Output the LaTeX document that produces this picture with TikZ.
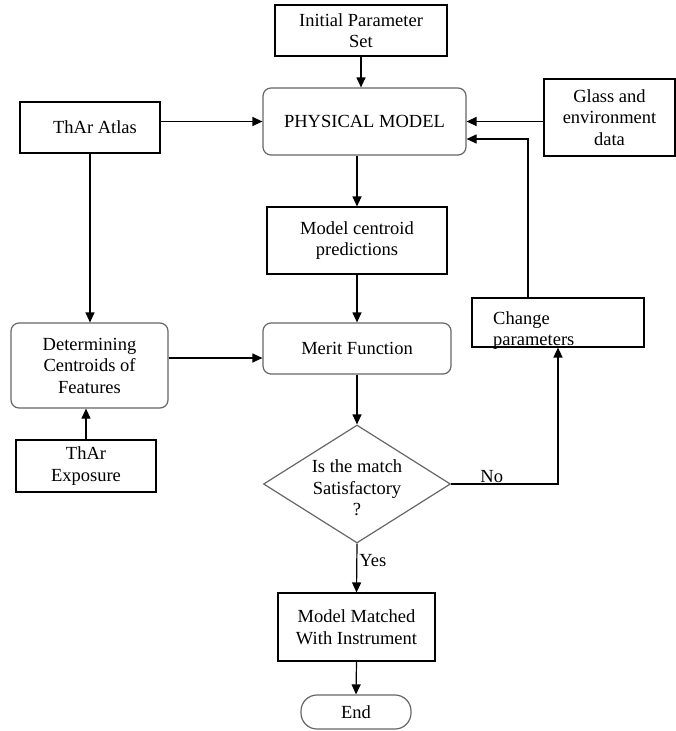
\documentclass[tikz,border=0pt]{standalone}
\usepackage{fontspec}
\setmainfont{Liberation Serif}
\usetikzlibrary{shapes.geometric,arrows.meta}

\begin{document}
\begin{tikzpicture}[x=1pt,y=-1pt,
  every node/.style={font=\fontsize{18.5}{21.5}\selectfont, align=center, inner sep=2pt},
  box/.style={draw, line width=1.1pt},
  rbox/.style={draw=black!60, line width=1.2pt, rounded corners=8pt},
  arr/.style={-{Triangle[length=10pt,width=9pt]}, line width=1.2pt}]
  \useasboundingbox (0,0) rectangle (676,731);
  \node[box, minimum width=172pt, minimum height=51pt] (init) at (361,30.5) {Initial Parameter\\Set};
  \node[rbox, minimum width=203pt, minimum height=67pt] (phys) at (364.5,121.5) {PHYSICAL MODEL};
  \node[box, minimum width=140pt, minimum height=51pt] (atlas) at (90,127.5) {\hspace{10pt}ThAr Atlas};
  \node[box, minimum width=131pt, minimum height=77pt] (glass) at (609.5,117.5) {Glass and\\environment\\data};
  \node[box, minimum width=180pt, minimum height=67pt] (pred) at (357,240.5) {Model centroid\\predictions};
  \node[rbox, minimum width=157pt, minimum height=85pt] (feat) at (89.5,365.5) {Determining\\Centroids of\\Features};
  \node[rbox, minimum width=188pt, minimum height=51pt] (merit) at (357,348.5) {Merit Function};
  \node[box, minimum width=172pt, minimum height=49pt] (change) at (558,322.5) {};
  \node[align=left, anchor=west] (changetxt) at (491,330.5) {Change\\parameters};
  \node[box, minimum width=140pt, minimum height=52pt] (expo) at (86,466) {ThAr\\Exposure};
  \node[diamond, draw=black!60, line width=1.2pt, minimum width=187pt, minimum height=118pt, inner sep=0pt] (check) at (357,484) {};
  \node (checktxt) at (357,488) {Is the match\\Satisfactory\\?};
  \node[box, minimum width=157pt, minimum height=68pt] (matched) at (356.5,627) {Model Matched\\With Instrument};
  \node[draw=black!60, line width=1.2pt, rounded corners=16pt, minimum width=110pt, minimum height=34pt] (end) at (356,712) {End};
  \coordinate (back) at (528,139);

  \draw[arr] (init.south) -- (init.south |- phys.north);
  \draw[arr] (atlas.east |- phys.west) -- (phys.west);
  \draw[arr] (glass.west |- phys.east) -- (phys.east);
  \draw[arr] (change.north -| back) -- (back) -- (phys.east |- back);
  \draw[arr] (phys.south -| pred.north) -- (pred.north);
  \draw[arr] (pred.south) -- (merit.north);
  \draw[arr] (atlas.south) -- (atlas.south |- feat.north);
  \draw[arr] (expo.north) -- (expo.north |- feat.south);
  \draw[arr] ([yshift=7.5pt]feat.east) -- ([yshift=7.5pt]feat.east -| merit.west);
  \draw[arr] (merit.south) -- (check.north);
  \draw[arr] (check.east) -| node[pos=0.19, above, inner sep=1pt] {No} (change.south);
  \draw[arr] (check.south) -- node[pos=0.35, right] {Yes} (matched.north);
  \draw[arr] (matched.south) -- (end.north);
\end{tikzpicture}
\end{document}
